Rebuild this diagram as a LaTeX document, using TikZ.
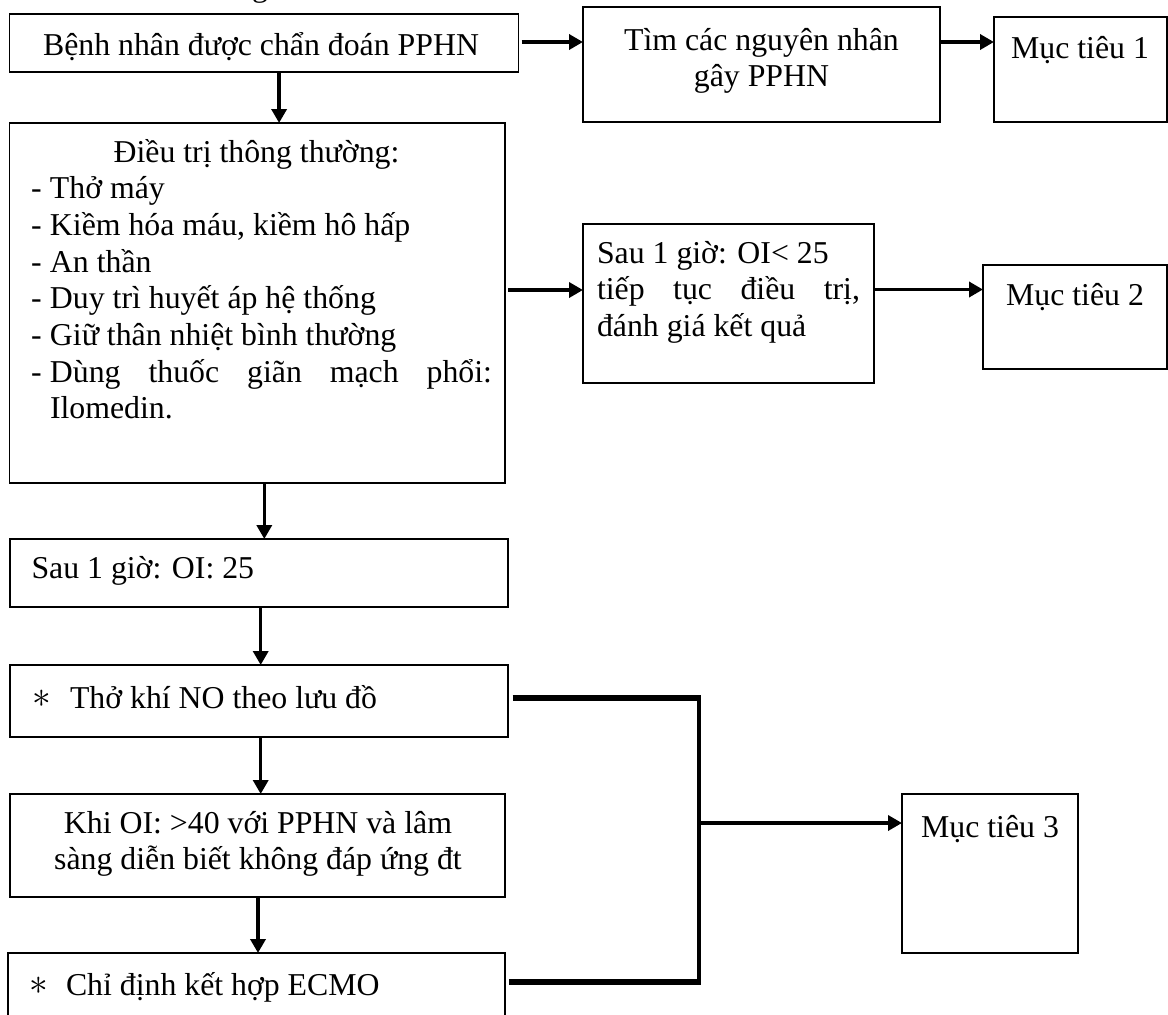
\documentclass[tikz,border=0pt]{standalone}
\usepackage{fontspec}
\usepackage{graphicx}
\setmainfont{Liberation Serif}
\usetikzlibrary{arrows.meta}
\newcommand{\myast}{\raisebox{1pt}{\scalebox{1.5}{$\ast$}}}
\begin{document}
\begin{tikzpicture}[x=1pt,y=-1pt,
  box/.style={draw, line width=1.6pt, inner sep=0pt, outer sep=0pt, anchor=north west},
  arr/.style={line width=3.5pt, -{Triangle[length=14pt,width=15pt]}},
  hthick/.style={line width=5.5pt},
  vthick/.style={line width=4pt},
  txt/.style={inner sep=0pt, outer sep=0pt, anchor=base},
  font=\fontsize{31.8}{36.7}\selectfont]
\useasboundingbox (0,0) rectangle (1168,1015);

% boxes
\node[box, minimum width=509pt, minimum height=58pt]  (b1)  at (9.6,14) {};
\node[box, minimum width=357pt, minimum height=115pt] (b2)  at (583,7) {};
\node[box, minimum width=173pt, minimum height=105pt] (b3)  at (994,17) {};
\node[box, minimum width=495.4pt, minimum height=360pt] (b4) at (9.6,123) {};
\node[box, minimum width=291pt, minimum height=159pt] (b5)  at (583,224) {};
\node[box, minimum width=184pt, minimum height=104pt] (b6)  at (983,265) {};
\node[box, minimum width=498pt, minimum height=68pt]  (b7)  at (9.7,539) {};
\node[box, minimum width=498pt, minimum height=72pt]  (b8)  at (9.7,665) {};
\node[box, minimum width=495pt, minimum height=103pt] (b9)  at (10,794) {};
\node[box, minimum width=497pt, minimum height=90pt]  (b10) at (8,953) {};
\node[box, minimum width=176pt, minimum height=159pt] (b11) at (902,794) {};

% texts
\node[txt] (title) at (260,-4) {g};
\node[txt] (t1) at (261,55) {Bệnh nhân được chẩn đoán PPHN};
\node[txt] (t2) at (761.5,50) {\parbox[t]{357pt}{\centering Tìm các nguyên nhân\\gây PPHN}};
\node[txt] (t3) at (1080,58) {Mục tiêu 1};
\node[txt, anchor=base west] (t4) at (31,162) {\parbox[t]{461pt}{%
  \makebox[451pt][c]{Điều trị thông thường:}\\
  \makebox[19pt][l]{-}Thở máy\\
  \makebox[19pt][l]{-}Kiềm hóa máu, kiềm hô hấp\\
  \makebox[19pt][l]{-}An thần\\
  \makebox[19pt][l]{-}Duy trì huyết áp hệ thống\\
  \makebox[19pt][l]{-}Giữ thân nhiệt bình thường\\
  \makebox[19pt][l]{-}\makebox[442pt][s]{Dùng thuốc giãn mạch phổi:}\\
  \hspace*{19pt}Ilomedin.}};
\node[txt, anchor=base west] (t5) at (597,263) {\parbox[t]{263pt}{%
  Sau 1 giờ: OI< 25\\
  \makebox[263pt][s]{tiếp tục điều trị,}\\
  đánh giá kết quả}};
\node[txt] (t6) at (1075,305) {Mục tiêu 2};
\node[txt, anchor=base west] (t7) at (31.5,578) {Sau 1 giờ: OI: 25};
\node[txt, anchor=base west] (t8) at (32,708) {\makebox[38pt][l]{\myast}Thở khí NO theo lưu đồ};
\node[txt] (t9) at (258,833) {\parbox[t]{495pt}{\centering Khi OI: >40 với PPHN và lâm\\sàng diễn biết không đáp ứng đt}};
\node[txt, anchor=base west] (t10) at (29,995) {\makebox[37pt][l]{\myast}Chỉ định kết hợp ECMO};
\node[txt] (t11) at (990,837) {Mục tiêu 3};

% arrows
\draw[arr] ([xshift=3pt,yshift=1pt]b1.east) -- ([yshift=1pt]b1.east -| b2.west);
\draw[arr] ([yshift=1pt]b1.east -| b2.east) -- ([yshift=1pt]b1.east -| b3.west);
\draw[arr] ([xshift=15pt]b1.south) -- ([xshift=15pt]b1.south |- b4.north);
\draw[arr] ([xshift=3pt,yshift=13pt]b4.east) -- ([yshift=13pt]b4.east -| b5.west);
\draw[arr] ([yshift=14pt]b5.east) -- ([yshift=14pt]b5.east -| b6.west);
\draw[arr] ([xshift=7pt]b4.south) -- ([xshift=7pt]b4.south |- b7.north);
\draw[arr] ([xshift=2pt]b7.south) -- ([xshift=2pt]b7.south |- b8.north);
\draw[arr] ([xshift=2pt]b8.south) -- ([xshift=2pt]b8.south |- b9.north);
\draw[arr] ([xshift=0.5pt]b9.south) -- ([xshift=0.5pt]b9.south |- b10.north);

% junction lines to Muc tieu 3
\coordinate (j1) at (699,698);
\coordinate (j2) at (699,982);
\coordinate (j3) at (699,823);
\draw[hthick] ([xshift=5pt]b8.east |- j1) -- ([xshift=2pt]j1);
\draw[hthick] ([xshift=4pt]b10.east |- j2) -- ([xshift=2pt]j2);
\draw[vthick] ([yshift=2.75pt]j1) -- ([yshift=-2.75pt]j2);
\draw[arr] (j3) -- (j3 -| b11.west);
\end{tikzpicture}
\end{document}
